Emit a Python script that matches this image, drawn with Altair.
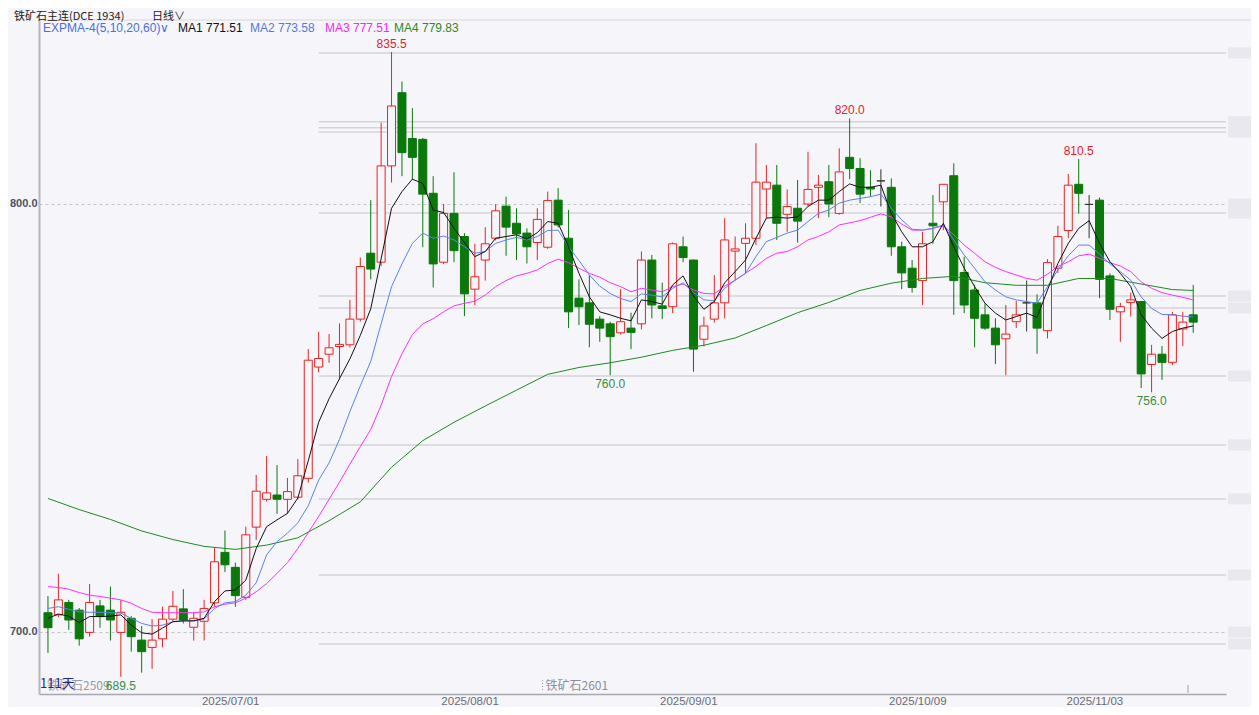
import altair as alt
import pandas as pd

# ---------------- data ----------------
open_ = [704.5, 704.0, 706.9, 705.1, 699.9, 706.1, 705.1, 699.9, 703.2, 698.1,
         696.4, 698.4, 703.0, 705.4, 701.1, 702.5, 706.8, 718.6, 715.1, 708.1,
         724.5, 731.0, 732.0, 731.0, 731.5, 735.9, 761.9, 764.9, 766.7, 767.1,
         773.1, 788.5, 786.4, 808.9, 826.0, 815.3, 815.1, 802.5, 786.4, 797.8,
         792.4, 780.1, 786.9, 792.0, 799.5, 795.5, 793.2, 791.0, 789.9, 800.9,
         792.0, 778.0, 776.9, 773.1, 772.0, 769.9, 771.0, 772.0, 786.9, 776.2,
         776.0, 790.0, 786.9, 768.4, 773.1, 776.9, 789.0, 790.8, 792.0, 803.5,
         804.4, 797.6, 799.0, 800.0, 803.9, 805.2, 797.8, 810.9, 808.3, 803.9,
         805.4, 803.9, 790.0, 785.0, 782.1, 795.5, 800.5, 806.6, 784.0, 779.9,
         774.1, 771.0, 768.5, 772.5, 776.9, 776.9, 770.4, 785.0, 793.8, 804.6,
         799.9, 800.9, 783.2, 774.8, 777.0, 777.2, 762.5, 764.9, 763.0, 770.8,
         774.1]
high_ = [708.4, 713.6, 707.5, 705.6, 711.2, 707.5, 710.6, 707.5, 703.7, 701.4,
         703.0, 705.9, 709.6, 710.0, 704.6, 707.5, 719.7, 723.7, 716.2, 724.6,
         736.7, 741.1, 739.0, 736.0, 740.4, 766.1, 770.1, 769.6, 772.1, 777.6,
         787.5, 800.9, 819.0, 835.5, 828.6, 822.4, 815.4, 806.5, 800.0, 807.4,
         793.2, 790.7, 794.6, 800.0, 801.7, 799.0, 794.3, 799.0, 802.9, 803.7,
         798.6, 782.4, 783.4, 773.8, 772.5, 780.1, 774.6, 788.9, 788.1, 781.6,
         791.0, 792.4, 787.0, 773.7, 783.4, 796.7, 792.4, 795.5, 814.2, 809.1,
         809.1, 803.4, 805.6, 812.2, 806.8, 809.1, 813.0, 820.0, 810.7, 807.9,
         808.1, 806.0, 791.2, 786.9, 793.5, 802.1, 804.6, 809.5, 787.7, 781.1,
         776.8, 773.3, 776.4, 777.4, 782.1, 778.9, 787.1, 794.9, 807.0, 810.5,
         802.1, 801.5, 783.8, 776.9, 779.3, 777.2, 767.1, 766.8, 774.8, 774.8,
         781.1]
low_ = [695.1, 703.5, 700.5, 696.8, 698.9, 701.0, 698.0, 689.5, 695.4, 690.5,
        691.4, 696.4, 702.5, 702.0, 698.0, 698.0, 705.9, 714.0, 705.9, 707.5,
        721.5, 730.5, 727.6, 727.6, 731.0, 734.9, 760.7, 762.9, 758.9, 766.5,
        772.5, 782.4, 785.5, 805.0, 806.5, 805.6, 789.9, 780.5, 786.0, 786.4,
        773.8, 776.4, 782.1, 791.5, 787.9, 786.9, 786.1, 786.9, 789.5, 794.5,
        771.0, 771.7, 766.5, 767.8, 760.0, 769.5, 766.1, 770.7, 773.3, 773.1,
        774.5, 786.4, 760.8, 766.7, 772.3, 773.3, 782.2, 783.8, 790.4, 796.7,
        791.6, 793.5, 791.0, 799.5, 796.7, 796.9, 797.5, 805.8, 800.2, 801.7,
        799.4, 787.9, 780.1, 779.3, 776.4, 790.7, 793.9, 774.1, 774.5, 766.5,
        770.6, 762.6, 760.0, 771.0, 770.2, 765.0, 768.6, 783.9, 792.0, 797.8,
        792.0, 778.0, 772.9, 767.8, 773.7, 757.0, 756.0, 758.9, 762.4, 766.8,
        769.9]
close_ = [701.0, 707.5, 702.8, 698.4, 706.9, 703.6, 702.8, 704.6, 698.9, 695.4,
          698.1, 703.0, 706.0, 702.8, 703.2, 705.5, 716.4, 715.7, 708.5, 722.7,
          732.9, 732.5, 731.0, 732.8, 736.5, 763.5, 763.9, 766.4, 767.2, 773.1,
          785.4, 784.8, 808.9, 822.9, 812.0, 810.9, 802.3, 786.0, 797.8, 789.1,
          779.0, 783.0, 790.7, 798.4, 794.6, 793.0, 790.0, 796.4, 800.8, 795.1,
          774.8, 776.0, 771.9, 771.0, 769.0, 772.5, 770.0, 786.9, 776.4, 775.6,
          790.7, 787.5, 766.1, 771.5, 776.9, 791.6, 789.5, 792.0, 805.1, 805.1,
          795.5, 799.4, 796.0, 803.4, 804.4, 800.0, 807.5, 808.3, 802.3, 803.5,
          805.4, 790.0, 783.9, 780.5, 790.7, 794.9, 804.6, 782.1, 776.4, 773.3,
          771.0, 767.1, 769.6, 774.1, 776.9, 771.0, 786.3, 792.4, 804.4, 802.5,
          799.9, 782.4, 775.4, 776.0, 777.6, 760.3, 764.9, 763.0, 774.1, 772.4,
          772.4]

ema5 = [703.2, 704.2, 703.7, 702.2, 703.6, 703.6, 703.7, 704.0, 701.6, 699.8,
        699.5, 700.9, 702.4, 702.6, 702.6, 703.2, 707.1, 709.6, 709.8, 712.1,
        719.5, 724.6, 726.2, 727.7, 731.3, 740.0, 749.0, 754.5, 759.2, 763.8,
        769.3, 775.5, 787.2, 799.0, 802.9, 805.8, 804.8, 798.6, 798.0, 794.3,
        791.0, 787.7, 788.9, 792.0, 792.4, 792.8, 791.8, 793.3, 795.9, 795.5,
        790.0, 783.8, 778.3, 774.8, 774.1, 773.3, 772.7, 777.6, 777.2, 776.6,
        781.1, 783.2, 778.5, 775.4, 777.2, 781.6, 784.2, 786.9, 792.0, 796.7,
        796.9, 796.7, 797.0, 799.4, 800.9, 800.9, 802.9, 804.7, 803.9, 803.9,
        804.4, 797.8, 793.5, 790.0, 790.0, 791.2, 795.5, 790.0, 785.0, 780.7,
        776.8, 774.5, 772.9, 773.7, 774.5, 773.5, 779.9, 786.1, 790.8, 794.3,
        796.1, 790.8, 786.5, 783.8, 780.7, 774.1, 771.0, 768.6, 770.2, 771.0,
        771.5]
ema10 = [705.5, 705.9, 705.3, 704.7, 704.6, 704.6, 704.5, 704.4, 703.2, 702.0,
         701.4, 701.6, 702.4, 702.6, 702.6, 703.0, 705.5, 706.8, 707.1, 708.6,
         711.5, 718.0, 721.1, 723.1, 725.5, 729.5, 735.5, 739.5, 745.0, 751.5,
         757.5, 763.2, 772.0, 780.7, 786.0, 790.8, 793.2, 792.0, 792.5, 791.6,
         790.0, 788.5, 788.9, 790.8, 791.6, 792.2, 791.6, 792.4, 793.8, 793.9,
         790.0, 786.8, 783.4, 780.8, 779.1, 777.9, 777.2, 779.0, 778.7, 778.3,
         780.3, 781.6, 779.3, 777.6, 777.4, 780.3, 782.2, 783.8, 787.7, 791.2,
         792.2, 793.2, 793.9, 795.9, 797.8, 798.6, 800.2, 800.9, 801.3, 801.7,
         802.3, 799.0, 796.3, 794.1, 793.9, 794.3, 795.1, 791.6, 788.1, 785.0,
         781.8, 779.9, 778.3, 777.6, 777.2, 776.8, 780.7, 784.6, 787.9, 790.4,
         790.4, 788.3, 786.0, 784.2, 782.2, 778.3, 775.6, 774.2, 774.1, 773.8,
         773.6]
ema20 = [710.6, 710.4, 710.0, 709.2, 708.6, 708.3, 707.9, 707.5, 706.7, 705.5,
         704.6, 704.5, 704.5, 704.5, 704.5, 704.7, 705.9, 706.5, 706.8, 707.9,
         709.4, 711.3, 713.7, 716.2, 719.5, 723.2, 727.0, 731.0, 735.0, 739.2,
         743.3, 747.3, 753.0, 759.7, 765.0, 769.5, 772.0, 773.2, 774.8, 776.2,
         776.8, 777.3, 778.7, 780.7, 782.1, 783.2, 783.8, 784.6, 786.1, 787.1,
         786.3, 785.0, 783.8, 782.9, 781.6, 780.7, 779.5, 780.3, 779.9, 779.5,
         780.7, 781.3, 779.9, 779.1, 779.0, 780.8, 782.2, 783.8, 785.4, 787.3,
         788.5, 788.9, 790.0, 791.6, 792.4, 793.5, 795.1, 795.6, 796.1, 796.9,
         797.7, 797.0, 795.3, 793.9, 793.9, 794.3, 794.9, 792.8, 790.4, 788.5,
         786.5, 785.2, 784.2, 783.4, 782.6, 782.2, 783.6, 785.4, 786.5, 787.9,
         788.3, 787.3, 786.3, 785.5, 784.2, 781.8, 780.3, 779.3, 778.7, 778.2,
         777.6]
ema60_idx = [0, 3, 6, 9, 12, 15, 18, 21, 24, 27, 30, 33, 36, 39, 42, 45, 48, 51,
             54, 57, 60, 63, 66, 69, 72, 75, 78, 81, 84, 87, 90, 93, 96, 99, 102,
             105, 108, 110]
ema60 = [731.2, 728.6, 726.3, 723.6, 721.6, 720.0, 719.3, 720.3, 722.0, 726.0,
         730.4, 738.5, 744.7, 749.0, 752.8, 756.5, 760.2, 761.8, 762.9, 764.2,
         765.8, 767.0, 768.7, 771.6, 774.6, 777.0, 779.8, 781.5, 782.6, 783.1,
         781.6, 781.0, 781.0, 782.6, 782.6, 781.3, 780.0, 779.8]

level_prices = [835.3, 819.2, 817.8, 816.8, 797.9, 778.5, 775.7, 759.8,
                743.7, 731.1, 713.3, 697.2]
level_start = 26

date_idx = [17.5, 40.5, 61.5, 83.5, 100.5]
date_text = ["2025/07/01", "2025/08/01", "2025/09/01", "2025/10/09", "2025/11/03"]

y_ticks = [700, 800]

peak_idx = [33, 77, 99]
peak_val = [835.5, 820.0, 810.5]
trough_idx = [7, 54, 106]
trough_val = [689.5, 760.0, 756.0]

legend_text = ["EXPMA-4(5,10,20,60)∨", "MA1 771.51", "MA2 773.58", "MA3 777.51", "MA4 779.83"]
header_text = ["铁矿石主连(DCE 1934)", "日线∨"]
contract_switch_idx = 47.5

# ---------------- styling ----------------
BG = "#F5F5FA"
RED = "#EE2020"
GREEN = "#0A780A"
DOJI = "#333333"
W, H = 1187, 674
NUM_FONT = "Liberation Sans"
CJK_FONT = "Noto Sans CJK SC"

xs = alt.Scale(domain=[-0.381, 112.667], nice=False, zero=False)
ys = alt.Scale(domain=[685.51, 842.99], nice=False, zero=False)

label_expr = " : ".join(f"datum.value == {v} ? '{t}'" for v, t in zip(date_idx, date_text)) + " : ''"

X_AXIS = alt.Axis(values=date_idx, labelExpr=label_expr, grid=False, ticks=False,
                  domainColor="#A8A8B0", domainWidth=1.5, labelColor="#6A6A74",
                  labelFontSize=11.5, labelFont=NUM_FONT, labelPadding=1, title=None,
                  labelFlush=False)
Y_AXIS = alt.Axis(values=y_ticks, format=".1f", grid=True, gridDash=[3, 3],
                  gridColor="#C4C4CE", gridWidth=1, ticks=False, domainColor="#B6B6BE",
                  domainWidth=2, labelColor="#4E4F60", labelFontSize=11, labelFont=NUM_FONT,
                  labelFontWeight="bold", labelPadding=2, title=None)


def X(field):
    return alt.X(field, scale=xs, axis=X_AXIS)


def Y(field):
    return alt.Y(field, scale=ys, axis=Y_AXIS)


n = len(open_)
kinds = ["up" if c > o else ("down" if c < o else "flat") for o, c in zip(open_, close_)]
df = pd.DataFrame({"idx": list(range(n)), "open": open_, "high": high_,
                   "low": low_, "close": close_, "kind": kinds})

kind_dom = ["up", "down", "flat"]
stroke_scale = alt.Scale(domain=kind_dom, range=[RED, GREEN, DOJI])
fill_scale = alt.Scale(domain=kind_dom, range=[BG, GREEN, DOJI])

# horizontal reference lines
lv = pd.DataFrame({"price": level_prices, "start": [level_start] * len(level_prices)})
levels = alt.Chart(lv).mark_rule(color="#D3D3D8", strokeWidth=1.5).encode(
    x=X("start:Q"), x2=alt.value(W), y=Y("price:Q"),
)

# blurred right-side price tags
blob = pd.DataFrame({"price": level_prices + [800.0, 700.0]})
blobs = alt.Chart(blob).mark_rect(height=11, color="#E8E8EE").encode(
    x=alt.value(W + 2), x2=alt.value(W + 26), y=Y("price:Q"),
)

wicks = alt.Chart(df).mark_rule(strokeWidth=1).encode(
    x=X("idx:Q"), y=Y("low:Q"), y2="high:Q",
    color=alt.Color("kind:N", scale=stroke_scale, legend=None),
)

bodies = alt.Chart(df).mark_bar(width=8, strokeWidth=1).encode(
    x=X("idx:Q"), y=Y("open:Q"), y2="close:Q",
    stroke=alt.Stroke("kind:N", scale=stroke_scale, legend=None),
    fill=alt.Fill("kind:N", scale=fill_scale, legend=None),
)


def ema_layer(idx, vals, color):
    d = pd.DataFrame({"idx": idx, "v": vals})
    return alt.Chart(d).mark_line(color=color, strokeWidth=1).encode(
        x=X("idx:Q"), y=Y("v:Q"))


l60 = ema_layer(ema60_idx, ema60, "#1F8A1F")
l20 = ema_layer(list(range(n)), ema20, "#FF30FF")
l10 = ema_layer(list(range(n)), ema10, "#5A82F0")
l5 = ema_layer(list(range(n)), ema5, "#111111")

pk = pd.DataFrame({"idx": peak_idx, "v": peak_val, "t": [f"{v:.1f}" for v in peak_val]})
tr = pd.DataFrame({"idx": trough_idx, "v": trough_val, "t": [f"{v:.1f}" for v in trough_val]})
peaks = alt.Chart(pk).mark_text(dy=-8, fontSize=12, font=NUM_FONT, color=RED).encode(
    x=X("idx:Q"), y=Y("v:Q"), text="t:N")
troughs = alt.Chart(tr).mark_text(dy=9, fontSize=12, font=NUM_FONT, color="#3A8E3A").encode(
    x=X("idx:Q"), y=Y("v:Q"), text="t:N")


def label(text, px, py, color, size=12, font=NUM_FONT):
    return alt.Chart(pd.DataFrame({"t": [text]})).mark_text(
        align="left", baseline="middle", fontSize=size, font=font, color=color).encode(
        x=alt.value(px), y=alt.value(py), text="t:N")


bl = label("铁矿石2509", 8, 666, "#9A9AA6", 12, CJK_FONT)
days = label("111天", 1, 664, "#1C2A8C", 13, CJK_FONT)

sw = pd.DataFrame({"idx": [contract_switch_idx], "t": ["铁矿石2601"]})
sw_tick = alt.Chart(sw).mark_rule(color="#9A9AA4", strokeDash=[1, 2]).encode(
    x=X("idx:Q"), y=alt.value(660), y2=alt.value(671))
sw_text = alt.Chart(sw).mark_text(align="left", baseline="middle", dx=3, fontSize=12,
                                  font=CJK_FONT, color="#8E8E98").encode(
    x=X("idx:Q"), y=alt.value(666), text="t:N")
end_tick = alt.Chart(pd.DataFrame({"idx": [109.5]})).mark_rule(color="#A0A0A8").encode(
    x=X("idx:Q"), y=alt.value(665), y2=alt.value(673))

topline = alt.Chart(pd.DataFrame({"a": [0]})).mark_rule(color="#D6D6DC", strokeWidth=1).encode(
    x=alt.value(-1), x2=alt.value(W + 30), y=alt.value(0))

h1 = label(header_text[0], -25, -3, "#222222", 11, CJK_FONT)
h2 = label(header_text[1], 113, -3, "#222222", 11, CJK_FONT)

leg_x = [4, 139, 211, 286, 355]
leg_c = ["#4A6FE0", "#111111", "#4F7AE8", "#FF22FF", "#2A8A2A"]
legs = [label(t, x, 8, c) for t, x, c in zip(legend_text, leg_x, leg_c)]

chart = alt.layer(
    levels, blobs, topline, wicks, bodies, l60, l20, l10, l5,
    peaks, bl, days, troughs, sw_tick, sw_text, end_tick, h1, h2, *legs,
).resolve_scale(color="independent", stroke="independent", fill="independent").properties(
    width=W, height=H,
    autosize=alt.AutoSizeParams(type="none"),
    padding={"left": 31, "top": 12, "right": 25, "bottom": 13},
    background=BG,
).configure_view(stroke=None)

chart.save("out.html", embed_options={"renderer": "svg", "actions": False})
